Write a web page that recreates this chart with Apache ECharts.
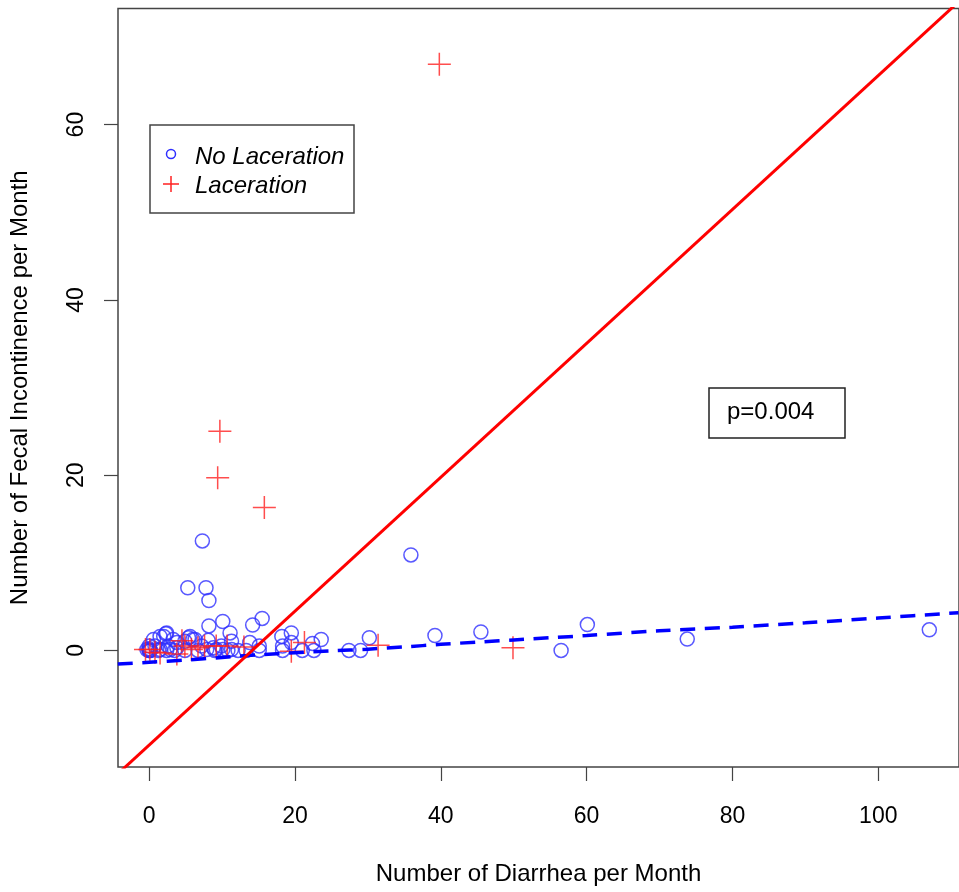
<!DOCTYPE html>
<html>
<head>
<meta charset="utf-8">
<script src="https://cdn.jsdelivr.net/npm/echarts@6/dist/echarts.min.js"></script>
<style>
  html, body { margin: 0; padding: 0; background: #fff; }
  #main { width: 959px; height: 892px; }
</style>
</head>
<body>
<div id="main"></div>
<script>
// No Laceration (blue circles): [diarrhea, fecal incontinence]
var noLaceration = [
  [0, 0], [0, 0], [0, 0.2], [0.2, 0], [-0.3, 0.1], [0, 0.5], [0.1, 0], [0.6, 1.25],
  [0.8, 0.5], [1.3, 0], [1.5, 1.6], [1.5, 0.1], [2, 1.6], [2.3, 1.9], [2.4, 2.0],
  [2.4, 0], [2.6, 0.5], [2.9, 0.1], [3.3, 1.25], [3.5, 0], [3.8, 0.9], [3.8, 0.3],
  [4.9, 1.05], [4.9, 0], [5.4, 1.45], [5.6, 1.6], [6, 1.25], [6.3, 1.25], [6.7, 0],
  [7.2, 0.5], [7.9, 0.1], [8.1, 1.15], [8.2, 2.8], [8.8, 0.3], [9, 0], [9.2, 0.1],
  [9.9, 0.5], [10.1, 0.1], [10.1, 3.3], [10.8, 0], [11.1, 2.0], [11.3, 1.05],
  [11.3, 0.1], [12.2, 0], [13.3, 0], [13.8, 0.9], [14.2, 2.9], [15.1, 0.5], [15.1, 0],
  [15.5, 3.65], [18.2, 1.6], [18.3, 0.5], [18.3, 0], [19.5, 2.0], [19.5, 0.9], [21, 0],
  [22.4, 0.8], [22.6, 0], [23.6, 1.25], [27.4, 0], [29, 0], [30.2, 1.45], [35.9, 10.9],
  [39.2, 1.7], [45.5, 2.1], [56.5, 0], [60.1, 2.95], [73.8, 1.3], [107, 2.35],
  [5.3, 7.15], [7.3, 12.5], [7.8, 7.15], [8.2, 5.7]
];

// Laceration (red plus signs)
var laceration = [
  [-0.5, 0.1], [0.1, 0.1], [0.8, -0.2], [1.5, -0.3], [3.8, -0.4], [4.5, 1.1], [4.9, 0.5],
  [5.8, 0.1], [6.7, 0.3], [7.6, 0.5], [9.2, 0.5], [10.7, 0.5], [13, 0.4], [19.5, -0.1],
  [21.3, 0.9], [31.4, 0.6], [49.9, 0.3], [15.8, 16.3], [9.4, 19.7], [9.7, 25.0], [39.8, 66.9]
];

// smoothed fit for No Laceration (blue dashed)
var fitX = [-4.3, 0, 5, 10, 15, 20, 25, 30, 35, 40, 45, 50, 55, 60, 70, 80, 90, 100, 111];
var fitY = [-1.55, -1.35, -1.1, -0.8, -0.5, -0.25, -0.05, 0.15, 0.4, 0.7, 0.95, 1.2, 1.45, 1.7, 2.25, 2.65, 3.15, 3.7, 4.3];

// linear fit for Laceration (red solid)
var lacSlope = 0.764;
var lacIntercept = -10.8;
var lacLineX = [-20, 130];

var xTicks = [0, 20, 40, 60, 80, 100];
var yTicks = [0, 20, 40, 60];

var FONT = 'Liberation Sans, Arial, sans-serif';

var fitData = fitX.map(function (x, i) { return [x, fitY[i]]; });
var lacLine = lacLineX.map(function (x) { return [x, lacIntercept + lacSlope * x]; });

var myChart = echarts.init(document.getElementById('main'));

myChart.setOption({
    animation: false,
    backgroundColor: '#fff',
    grid: {
        left: 117,
        top: 8.5,
        right: -4,
        bottom: 125,
        show: true,
        borderColor: '#444',
        borderWidth: 1.5,
        backgroundColor: 'transparent'
    },
    xAxis: {
        type: 'value',
        min: -4.27,
        max: 111.07,
        axisLine: { show: false, onZero: false },
        splitLine: { show: false },
        axisTick: {
            show: true,
            length: 14,
            customValues: xTicks,
            lineStyle: { color: '#444', width: 1.2 }
        },
        axisLabel: {
            customValues: xTicks,
            margin: 38,
            fontSize: 23,
            fontFamily: FONT,
            color: '#000'
        },
        name: 'Number of Diarrhea per Month',
        nameLocation: 'middle',
        nameGap: 95,
        nameTextStyle: { fontSize: 24, fontFamily: FONT, color: '#000' }
    },
    yAxis: {
        type: 'value',
        min: -13.3,
        max: 73.25,
        axisLine: { show: false, onZero: false },
        splitLine: { show: false },
        axisTick: {
            show: true,
            length: 14,
            customValues: yTicks,
            lineStyle: { color: '#444', width: 1.2 }
        },
        axisLabel: {
            customValues: yTicks,
            rotate: 90,
            margin: 30,
            fontSize: 23,
            fontFamily: FONT,
            color: '#000'
        },
        name: 'Number of Fecal Incontinence per Month',
        nameLocation: 'middle',
        nameGap: 86,
        nameTextStyle: { fontSize: 24, fontFamily: FONT, color: '#000' }
    },
    series: [
        {
            name: 'No Laceration',
            type: 'scatter',
            data: noLaceration,
            symbol: 'circle',
            symbolSize: 14,
            itemStyle: { color: 'rgba(0,0,0,0)', borderColor: '#2f2fff', borderWidth: 1.5 }
        },
        {
            name: 'Laceration',
            type: 'scatter',
            data: laceration,
            symbol: 'path://M0,-1L0,1M-1,0L1,0',
            symbolSize: 23,
            itemStyle: { color: 'rgba(0,0,0,0)', borderColor: '#ff2020', borderWidth: 1.5 }
        },
        {
            name: 'fit no laceration',
            type: 'line',
            data: fitData,
            smooth: 0.3,
            symbol: 'none',
            clip: true,
            lineStyle: { color: '#0000ff', width: 3.5, type: [15, 9.5] }
        },
        {
            name: 'fit laceration',
            type: 'line',
            data: lacLine,
            symbol: 'none',
            clip: true,
            lineStyle: { color: '#ff0000', width: 3 }
        }
    ],
    graphic: [
        // legend box
        { type: 'rect', shape: { x: 150, y: 125, width: 204, height: 88 },
          style: { fill: '#fff', stroke: '#444', lineWidth: 1.5 }, z: 10 },
        { type: 'circle', shape: { cx: 171, cy: 154, r: 4.5 },
          style: { fill: 'none', stroke: '#2f2fff', lineWidth: 1.5 }, z: 11 },
        { type: 'line', shape: { x1: 163, y1: 184, x2: 179, y2: 184 },
          style: { stroke: '#ff2020', lineWidth: 1.5 }, z: 11 },
        { type: 'line', shape: { x1: 171, y1: 176, x2: 171, y2: 192 },
          style: { stroke: '#ff2020', lineWidth: 1.5 }, z: 11 },
        { type: 'text', x: 195, y: 157, z: 11,
          style: { text: 'No Laceration', font: 'italic 24px ' + FONT, fill: '#000', verticalAlign: 'middle' } },
        { type: 'text', x: 195, y: 186, z: 11,
          style: { text: 'Laceration', font: 'italic 24px ' + FONT, fill: '#000', verticalAlign: 'middle' } },
        // p-value box
        { type: 'rect', shape: { x: 709, y: 388, width: 136, height: 50 },
          style: { fill: '#fff', stroke: '#222', lineWidth: 1.5 }, z: 10 },
        { type: 'text', x: 727, y: 412, z: 11,
          style: { text: 'p=0.004', font: '24px ' + FONT, fill: '#000', verticalAlign: 'middle' } }
    ]
});
</script>
</body>
</html>
